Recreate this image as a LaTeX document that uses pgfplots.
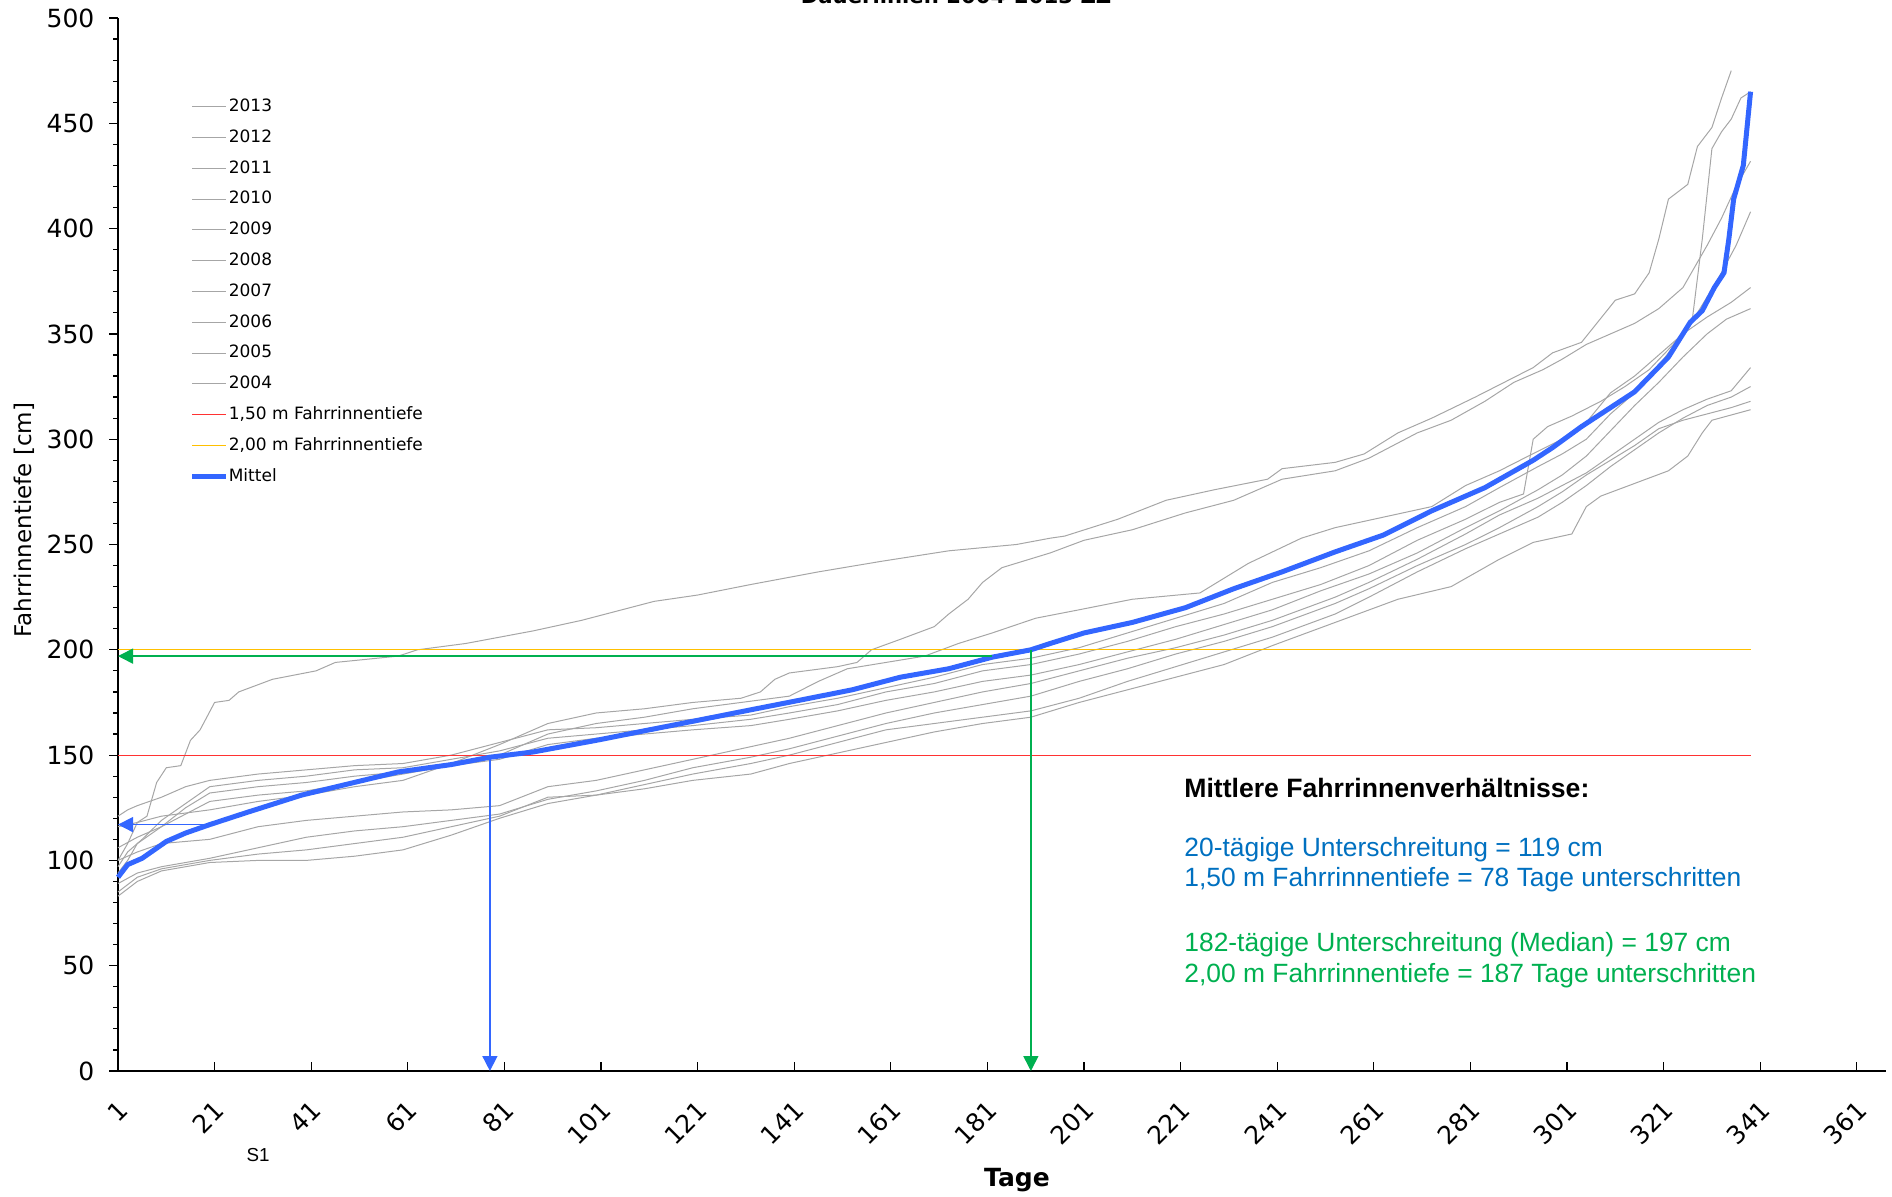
\documentclass[border=0pt]{standalone}
\usepackage{fontspec}
\setmainfont{DejaVu Sans}
\newfontfamily\arialfont{Liberation Sans}
\usepackage{pgfplots}
\pgfplotsset{compat=1.18}
\usetikzlibrary{arrows.meta}
\definecolor{grayline}{RGB}{166,166,166}
\definecolor{meanblue}{RGB}{51,102,255}
\definecolor{lred}{RGB}{255,50,50}
\definecolor{lyellow}{RGB}{255,192,0}
\definecolor{agreen}{RGB}{0,176,80}
\definecolor{tblue}{RGB}{0,112,192}
\begin{document}
\begin{tikzpicture}
\begin{axis}[
  scale only axis, width=883.9pt, height=526.5pt,
  at={(59pt,62.5pt)}, anchor=south west,
  xmin=1, xmax=367, ymin=0, ymax=500,
  axis x line*=bottom, axis y line*=left,
  axis line style={black, line width=0.8pt},
  xtick={1,21,...,361}, ytick={0,50,...,500}, minor y tick num=4,
  tick align=inside, major tick length=4.5pt, minor tick length=2.5pt,
  every major y tick/.append style={xshift=-4.5pt},
  every minor y tick/.append style={xshift=-2.5pt},
  tick style={black, line width=0.6pt},
  ticklabel style={font=\fontsize{12.5}{15}\selectfont},
  /pgf/number format/assume math mode=true,
  xticklabel style={yshift=-17pt, xshift=3pt, rotate=45, anchor=east, inner sep=0.5pt},
  yticklabel style={xshift=-8.3pt},
  clip=false,
  legend cell align=left,
  legend style={at={(0.0404,0.924)}, anchor=north west, draw=none, fill=none,
    inner sep=0pt, font=\fontsize{8.5}{10}\selectfont, row sep=7.1pt,
    nodes={inner sep=0pt, text height=6.5pt, text depth=1.8pt},
    /tikz/every odd column/.style={column sep=0pt}},
  legend image code/.code={\draw[#1] (0pt,0pt) -- (17pt,0pt);},
]
% A
\addplot[grayline, line width=0.5pt] coordinates {(1,100) (3,108) (5,118) (7,121) (9,137) (11,144) (14,145) (16,157) (18,162) (21,175) (24,176) (26,180) (33,186) (42,190) (46,194) (59,197) (63,200) (73,203) (87,209) (97,214) (112,223) (121,226) (132,231) (146,237) (159,242) (173,247) (187,250) (194,253) (197,254) (208,262) (218,271) (228,276) (239,281) (242,286) (253,289) (259,293) (266,303) (273,310) (282,320) (294,334) (298,341) (304,346) (311,366) (315,369) (318,379) (320,395) (322,414) (326,421) (328,439) (331,448) (333,462) (335,475)};
\addlegendentry{2013}
% B
\addplot[grayline, line width=0.5pt] coordinates {(1,116) (5,118) (10,121) (20,124) (30,128) (40,131) (50,135) (60,138) (70,146) (80,155) (90,165) (100,170) (110,172) (120,175) (130,177) (134,180) (137,186) (140,189) (150,192) (154,194) (157,200) (163,205) (170,211) (173,217) (177,224) (180,232) (184,239) (194,246) (201,252) (211,257) (222,265) (232,271) (242,281) (253,285) (260,291) (270,303) (277,309) (284,318) (290,327) (296,333) (300,338) (305,345) (310,350) (315,355) (320,362) (325,372) (330,392) (333,405) (336,420) (339,432)};
\addlegendentry{2012}
% C
\addplot[grayline, line width=0.5pt] coordinates {(1,106) (5,111) (10,116) (20,128) (30,131) (40,133) (50,137) (60,141) (70,145) (80,150) (90,160) (100,165) (110,168) (120,172) (130,175) (140,178) (146,185) (152,191) (160,194) (168,197) (175,203) (182,208) (191,215) (200,219) (211,224) (225,227) (235,241) (246,253) (253,258) (263,263) (273,268) (280,278) (287,285) (293,292) (300,300) (305,308) (310,322) (315,330) (320,340) (325,350) (330,358) (335,365) (339,372)};
\addlegendentry{2011}
% D
\addplot[grayline, line width=0.5pt] coordinates {(1,121) (3,124) (5,126) (10,130) (15,135) (20,138) (30,141) (40,143) (50,145) (60,146) (70,150) (80,156) (90,162) (100,163) (110,165) (120,167) (132,169) (140,173) (150,177) (160,182) (170,187) (180,193) (190,196) (200,201) (210,208) (220,215) (230,222) (240,232) (250,239) (260,247) (270,258) (280,268) (287,277) (295,287) (300,293) (305,300) (310,312) (315,322) (320,335) (325,350) (327,358) (329,395) (331,438) (333,446) (335,452) (337,462) (339,465)};
\addlegendentry{2010}
% E
\addplot[grayline, line width=0.5pt] coordinates {(1,97) (3,104) (6,110) (10,119) (15,127) (20,135) (30,138) (40,140) (50,143) (60,144) (70,148) (80,152) (90,158) (100,160) (110,162) (120,164) (132,167) (140,170) (150,174) (160,180) (170,184) (180,190) (190,193) (200,198) (210,204) (220,211) (230,217) (240,224) (250,231) (260,240) (270,252) (280,262) (287,270) (292,274) (294,300) (297,306) (302,311) (308,318) (313,325) (318,333) (323,345) (328,360) (332,375) (336,392) (339,408)};
\addlegendentry{2009}
% F
\addplot[grayline, line width=0.5pt] coordinates {(1,94) (3,100) (5,108) (10,116) (15,125) (20,132) (30,135) (40,137) (50,140) (60,142) (70,145) (80,148) (90,155) (100,158) (110,160) (120,162) (132,164) (140,167) (150,171) (160,176) (170,180) (180,185) (190,188) (200,193) (210,199) (220,205) (230,212) (240,219) (250,228) (260,236) (270,246) (280,258) (287,266) (295,276) (300,283) (305,292) (310,304) (315,316) (320,327) (325,339) (330,350) (334,357) (339,362)};
\addlegendentry{2008}
% G
\addplot[grayline, line width=0.5pt] coordinates {(1,100) (5,104) (10,108) (20,110) (30,116) (40,119) (50,121) (60,123) (70,124) (80,126) (90,135) (100,138) (110,143) (120,148) (132,154) (140,158) (150,164) (160,170) (170,175) (180,180) (190,184) (200,190) (210,196) (220,201) (230,207) (240,214) (253,225) (260,232) (270,243) (280,255) (287,264) (295,272) (300,278) (305,284) (310,292) (315,300) (320,308) (325,314) (330,319) (335,323) (339,334)};
\addlegendentry{2007}
% H
\addplot[grayline, line width=0.5pt] coordinates {(1,89) (5,94) (10,97) (20,101) (30,106) (40,111) (50,114) (60,116) (70,119) (80,122) (90,129) (100,133) (110,138) (120,144) (132,149) (140,153) (150,159) (160,165) (170,170) (180,174) (190,178) (200,185) (210,191) (220,198) (230,204) (240,211) (253,222) (260,229) (270,240) (280,250) (287,258) (295,268) (300,275) (305,283) (310,290) (315,297) (320,305) (325,309) (330,312) (335,315) (339,318)};
\addlegendentry{2006}
% I
\addplot[grayline, line width=0.5pt] coordinates {(1,85) (5,92) (10,96) (20,100) (30,103) (40,105) (50,108) (60,111) (70,116) (80,121) (90,130) (100,131) (110,136) (120,141) (132,146) (140,150) (150,156) (160,162) (170,165) (180,168) (190,171) (200,177) (210,185) (220,192) (230,199) (240,206) (253,217) (260,225) (270,237) (280,248) (287,255) (295,263) (300,270) (305,278) (310,287) (315,295) (320,303) (325,310) (330,316) (335,320) (339,325)};
\addlegendentry{2005}
% J
\addplot[grayline, line width=0.5pt] coordinates {(1,83) (5,90) (10,95) (20,99) (30,100) (40,100) (50,102) (60,105) (70,112) (80,120) (90,127) (100,131) (110,134) (120,138) (132,141) (140,146) (150,151) (160,156) (170,161) (180,165) (190,168) (200,175) (210,181) (220,187) (230,193) (240,202) (253,213) (266,224) (277,230) (287,243) (294,251) (302,255) (305,268) (308,273) (315,279) (322,285) (326,292) (329,303) (331,309) (339,314)};
\addlegendentry{2004}
\addplot[lred, line width=0.6pt] coordinates {(1,150) (339,150)};
\addlegendentry{1,50 m Fahrrinnentiefe}
\addplot[lyellow, line width=0.6pt] coordinates {(1,200) (339,200)};
\addlegendentry{2,00 m Fahrrinnentiefe}
\addplot[meanblue, line width=2.5pt, line join=round] coordinates {(1,92) (3,98) (6,101) (11,109) (15,113) (20,117) (28,123) (39,131) (49,136.5) (59,142) (70,145.5) (78,149) (87,151.5) (100,157) (111,162) (121,166.5) (132,171.5) (142,176) (153,181) (163,187) (173,191) (182,196.5) (190,200) (194,203) (201,208) (211,213) (222,220) (232,229) (242,237) (253,246.5) (263,254.5) (273,266) (284,277) (294,290) (298,296) (304,306) (315,322.5) (322,339) (326.5,355.5) (329,361) (331.5,372) (333.5,379) (334.5,395) (335.5,414) (337.5,430) (339,465)};
\addlegendentry{Mittel}
% arrows
\addplot[meanblue, line width=0.8pt, -{Triangle[length=7.5pt,width=7.5pt]}, forget plot] coordinates {(20,117) (1,117)};
\addplot[meanblue, line width=0.8pt, -{Triangle[length=7.5pt,width=7.5pt]}, forget plot] coordinates {(78,150) (78,0)};
\addplot[agreen, line width=0.8pt, -{Triangle[length=7.5pt,width=7.5pt]}, forget plot] coordinates {(182,197) (1,197)};
\addplot[agreen, line width=0.8pt, -{Triangle[length=7.5pt,width=7.5pt]}, forget plot] coordinates {(190,200) (190,0)};
\end{axis}
\node[rotate=90, font=\fontsize{11.5}{14}\selectfont] at (12pt,338pt) {Fahrrinnentiefe [cm]};
\node[font=\bfseries\fontsize{12.5}{15}\selectfont] at (508.5pt,8.2pt) {Tage};
\node[font=\arialfont\fontsize{9.4}{11}\selectfont] at (129pt,20.5pt) {S1};
\node[anchor=base, inner sep=0pt, font=\bfseries\fontsize{10.6}{12}\selectfont] at (478pt,596pt) {Dauerlinien 2004-2013 ZZ};
\node[anchor=base west, inner sep=0pt, font=\arialfont\bfseries\fontsize{13.3}{16}\selectfont] at (592pt,199pt) {Mittlere Fahrrinnenverhältnisse:};
\node[anchor=base west, inner sep=0pt, text=tblue, font=\arialfont\fontsize{13.2}{16}\selectfont] at (592pt,170pt) {20-tägige Unterschreitung = 119 cm};
\node[anchor=base west, inner sep=0pt, text=tblue, font=\arialfont\fontsize{13.2}{16}\selectfont] at (592pt,154.5pt) {1,50 m Fahrrinnentiefe = 78 Tage unterschritten};
\node[anchor=base west, inner sep=0pt, text=agreen, font=\arialfont\fontsize{13.2}{16}\selectfont] at (592pt,122.5pt) {182-tägige Unterschreitung (Median) = 197 cm};
\node[anchor=base west, inner sep=0pt, text=agreen, font=\arialfont\fontsize{13.2}{16}\selectfont] at (592pt,107pt) {2,00 m Fahrrinnentiefe = 187 Tage unterschritten};
\pgfresetboundingbox
\useasboundingbox (0,0) rectangle (946pt,598pt);
\end{tikzpicture}
\end{document}
